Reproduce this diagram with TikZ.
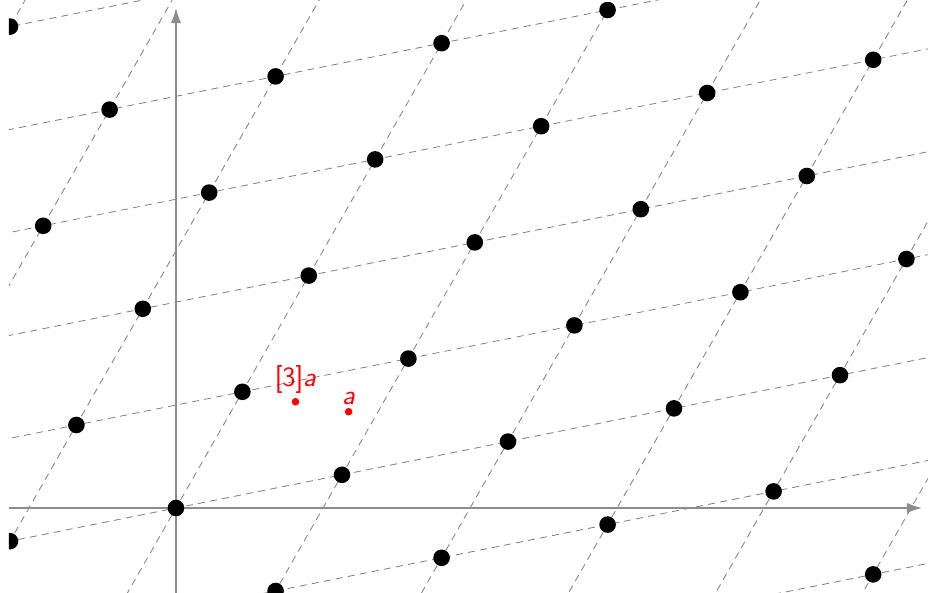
\documentclass[tikz,border=0pt]{standalone}
\usepackage{tikz}
\usetikzlibrary{arrows.meta, positioning}

\begin{document}
\begin{tikzpicture}[
  gridline/.style={
    gray, line width=0.7pt,
    dash pattern=on 6pt off 4.5pt
  },
  axis/.style={
    gray!90, line width=1.4pt,
    -{Latex[length=13pt, width=9pt]}
  },
  redpt/.style={
    circle, fill=red, inner sep=0pt,
    minimum size=0.23cm
  },
  redlbl/.style={
    text=red, inner sep=1pt,
    font=\fontsize{24}{28}\selectfont\sffamily
  }
]
\useasboundingbox (-5.301,-2.560) rectangle (22.651,15.301);

% lattice lines, cut at the frame
\begin{scope}
  \clip (-5.03,-2.560) rectangle (22.651,15.301);
  \foreach \n in {-6,...,6}
    \draw[gridline] ({2*\n-50},{3.5*\n-10}) -- ({2*\n+50},{3.5*\n+10});
  \foreach \m in {-4,...,7}
    \draw[gridline] ({5*\m-20},{\m-35}) -- ({5*\m+20},{\m+35});
\end{scope}

% axes
\coordinate (xmin) at (-5.03,0);
\coordinate (xmax) at (22.47,0);
\coordinate (ymin) at (0,-2.56);
\coordinate (ymax) at (0,15.06);
\draw[axis] (xmin) -- (xmax);
\draw[axis] (ymin) -- (ymax);

% lattice points
\begin{scope}
  \clip (-5.03,-2.560) rectangle (22.651,15.22);
  \foreach \m in {-6,...,8}
    \foreach \n in {-3,...,7}
      \fill ({5*\m+2*\n},{\m+3.5*\n}) circle (0.25);
\end{scope}

% the point a and [3]a
\node[redpt] (pa)  at (5.2,2.9) {};
\node[redpt] (p3a) at (3.6,3.2) {};
\node[redlbl, above=1pt of pa]  (la)  {\textit{a}};
\node[redlbl, above=2pt of p3a] (l3a) {[3]\textit{a}};
\end{tikzpicture}
\end{document}
